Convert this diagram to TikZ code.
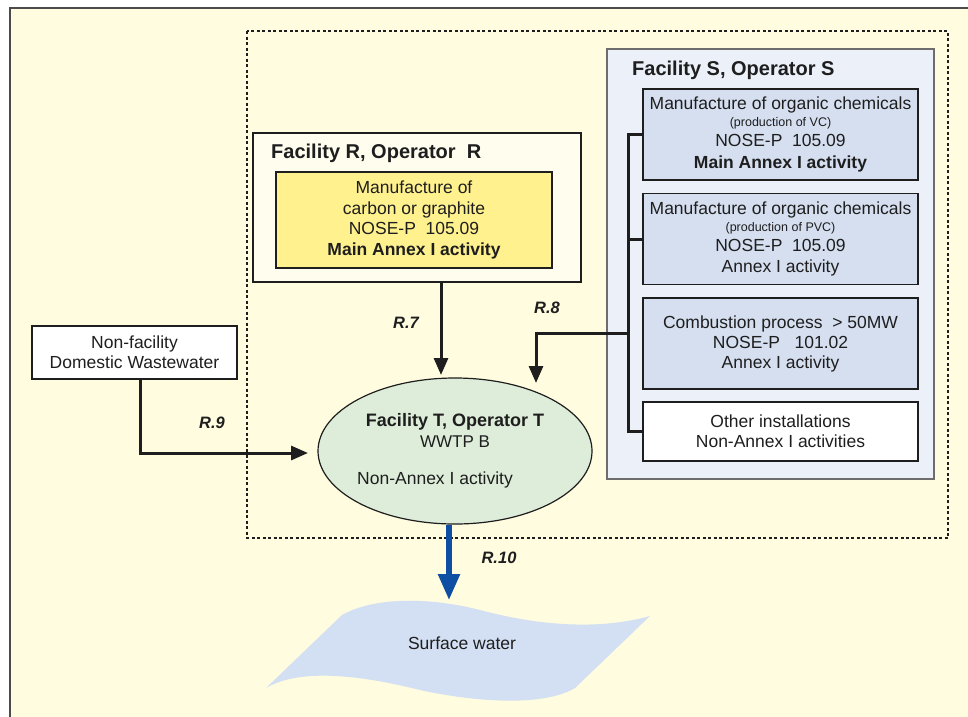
\documentclass[tikz,border=0pt]{standalone}
\usepackage{fontspec}
\setmainfont{Liberation Sans}
\usetikzlibrary{arrows.meta,shapes.geometric}
\definecolor{bgc}{HTML}{FFFCDF}
\definecolor{rfill}{HTML}{FFFDEE}
\definecolor{yfill}{HTML}{FFF18E}
\definecolor{sfill}{HTML}{ECF1F9}
\definecolor{bfill}{HTML}{D5DFF0}
\definecolor{efill}{HTML}{DDEDDA}
\definecolor{wfill}{HTML}{D3DFF2}
\definecolor{ink}{HTML}{1E1E1E}
\definecolor{arrblue}{HTML}{0E4FA3}
\tikzset{
  boxed/.style={draw=ink, line width=1.2pt, align=center, inner sep=0pt,
    font=\fontsize{17.5}{20}\selectfont, text=ink},
  titletext/.style={font=\bfseries\fontsize{20}{24}\selectfont, text=ink, inner sep=0pt},
  rlabel/.style={font=\bfseries\itshape\fontsize{16.5}{20}\selectfont, text=ink, inner sep=0pt},
  conn/.style={draw=ink, line width=3pt},
  arr/.style={conn, -{Triangle[width=14pt,length=17pt]}},
  bluearr/.style={draw=arrblue, line width=5.5pt, -{Triangle[width=21pt,length=26pt]}},
}
\newcommand{\smalltxt}[1]{{\fontsize{12.5}{14}\selectfont #1}}
\begin{document}
\begin{tikzpicture}[x=1pt,y=-1pt]
\useasboundingbox (0,0) rectangle (968,716);
\fill[white] (0,0) rectangle (968,716);
% outer frame
\draw[draw=ink!80, line width=2pt, fill=bgc] (10,8) rectangle (995,740);
% dotted region
\draw[ink, line width=1.3pt, dash pattern=on 3pt off 2.5pt] (247,31) rectangle (948,538);

% Facility S
\node[draw=ink!65, line width=1.2pt, fill=sfill, minimum width=327pt, minimum height=430pt, inner sep=0pt] (sbox) at (770.5,264) {};
\node[titletext, anchor=west] (stitle) at (632,70) {Facility S, Operator S};
\node[boxed, fill=bfill, minimum width=275pt, minimum height=91pt] (b1) at (780.5,134.5)
  {Manufacture of organic chemicals\\[-3.8pt]\smalltxt{(production of VC)}\\[0.5pt]NOSE-P\ \ 105.09\\[1.5pt]\textbf{Main Annex I activity}};
\node[boxed, fill=bfill, minimum width=275pt, minimum height=91pt] (b2) at (780.5,239)
  {Manufacture of organic chemicals\\[-3.8pt]\smalltxt{(production of PVC)}\\[0.5pt]NOSE-P\ \ 105.09\\[0.5pt]Annex I activity};
\node[boxed, fill=bfill, minimum width=275pt, minimum height=91pt] (b3) at (780.5,343.5)
  {Combustion process\ \ > 50MW\\NOSE-P\ \ \ 101.02\\Annex I activity};
\node[boxed, fill=white, minimum width=275pt, minimum height=59pt] (b4) at (780.5,431.5)
  {Other installations\\Non-Annex I activities};

% Facility R
\node[draw=ink, line width=1.2pt, fill=rfill, minimum width=328pt, minimum height=149pt, inner sep=0pt] (rbox) at (417,207.5) {};
\node[titletext, anchor=west] (rtitle) at (271,153) {Facility R, Operator\ \ R};
\node[boxed, fill=yfill, minimum width=276pt, minimum height=96pt, font=\fontsize{17.5}{20.5}\selectfont] (ybox) at (414,220)
  {Manufacture of\\carbon or graphite\\NOSE-P\ \ 105.09\\\textbf{Main Annex I activity}};

% Facility T ellipse
\node[ellipse, draw=ink, line width=1.2pt, fill=efill, minimum width=274pt, minimum height=146pt, inner sep=0pt] (ell) at (455,451) {};
\node[titletext, font=\bfseries\fontsize{18}{22}\selectfont] (ttitle) at (455,422) {Facility T, Operator T};
\node[inner sep=0pt, font=\fontsize{17}{20}\selectfont, text=ink] (tsub) at (455,442) {WWTP B};
\node[inner sep=0pt, font=\fontsize{17.5}{20}\selectfont, text=ink, anchor=west] (tact) at (357,480) {Non-Annex I activity};

% Non-facility
\node[boxed, fill=white, minimum width=205pt, minimum height=53pt] (nf) at (134.5,352.5)
  {Non-facility\\Domestic Wastewater};

% Surface water
\path[fill=wfill] (342,615) .. controls (372,598) and (425,596) .. (480,610)
  .. controls (540,626) and (600,630) .. (650,616) -- (575,688)
  .. controls (545,706) and (480,703) .. (420,690)
  .. controls (360,675) and (300,668) .. (266,688) -- cycle;
\node[inner sep=0pt, font=\fontsize{17.5}{20}\selectfont, text=ink] (sw) at (462,643) {Surface water};

% coordinates
\coordinate (bx) at (628,0);
\coordinate (r8start) at (628,333);
\coordinate (r8end) at (536,383);
\coordinate (r7end) at (441,375);
\coordinate (r9x) at (140,0);
\coordinate (r9end) at (308,453);
\coordinate (r10end) at (449,600);

% bracket
\draw[conn] (b1.west |- 0,134) -| (b4.west -| bx) -- (b4.west);
\draw[conn] (b2.west) -- (b2.west -| bx);

% arrows
\draw[arr] (r8start) -| (r8end);
\draw[arr] (rbox.south -| r7end) -- (r7end);
\draw[arr] (nf.south -| r9x) |- (r9end);
\draw[bluearr] (ell.south -| r10end) -- (r10end);

% labels
\node[rlabel] (l7) at (406,323) {R.7};
\node[rlabel] (l8) at (547,308) {R.8};
\node[rlabel] (l9) at (212,423) {R.9};
\node[rlabel] (l10) at (499,558) {R.10};
\end{tikzpicture}
\end{document}
